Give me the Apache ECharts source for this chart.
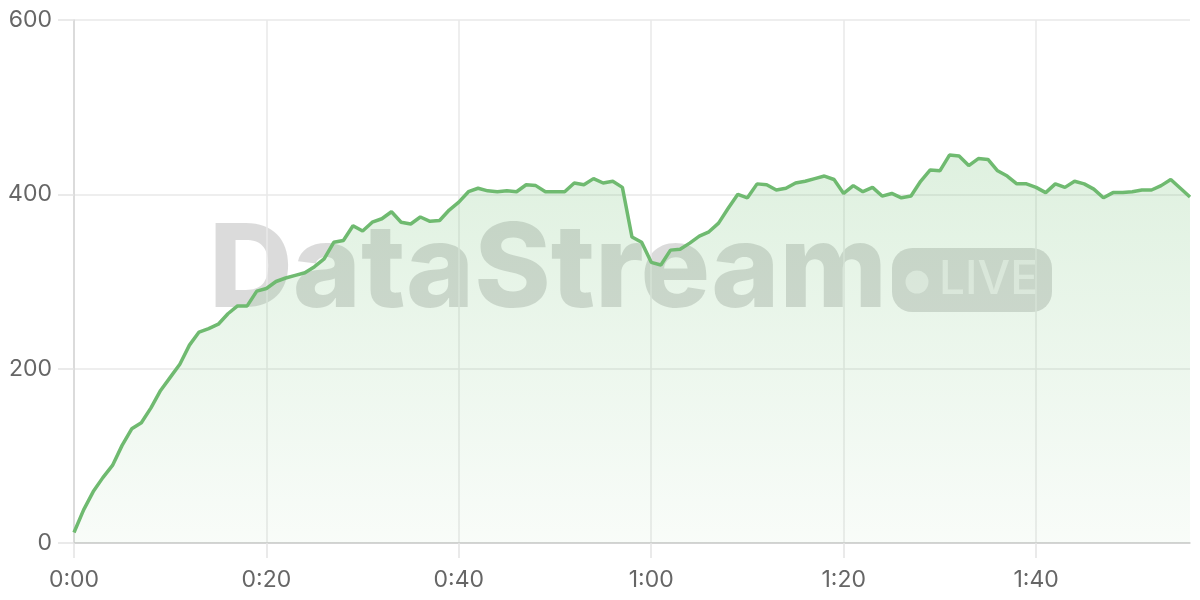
<!DOCTYPE html>
<html>
<head>
<meta charset="utf-8">
<script src="https://cdn.jsdelivr.net/npm/echarts@6/dist/echarts.min.js"></script>
<style>
html,body{margin:0;padding:0;background:#ffffff;}
#chart{width:1200px;height:600px;}
</style>
</head>
<body>
<div id="chart"></div>
<script>
// Values per second, 0:00 .. 1:56
const values = [
  12, 38, 59, 75, 89, 112, 131, 138, 155, 175, 190, 205, 227, 242, 246, 251, 263, 272, 272, 289,
  292, 300, 304, 307, 310, 317, 326, 345, 347, 364, 358, 368, 372, 380, 368, 366, 374, 369, 370, 382,
  391, 403, 407, 404, 403, 404, 403, 411, 410, 403, 403, 403, 413, 411, 418, 413, 415, 408, 351, 345,
  322, 319, 336, 337, 344, 352, 357, 367, 384, 400, 396, 412, 411, 405, 407, 413, 415, 418, 421, 417,
  401, 410, 403, 408, 398, 401, 396, 398, 415, 428, 427, 445, 444, 433, 441, 440, 427, 421, 412, 412,
  408, 402, 412, 408, 415, 412, 406, 396, 402, 402, 403, 405, 405, 410, 417, 407, 397
];
// elapsed seconds for each sample
const seconds = values.map((v, i) => i);
const yTicks = [0, 200, 400, 600];
const watermarkTitle = 'DataStream';
const watermarkBadge = 'LIVE';

function fmtTime(s) {
  s = Number(s);
  const m = Math.floor(s / 60);
  const r = s % 60;
  return m + ':' + (r < 10 ? '0' + r : r);
}

const chart = echarts.init(document.getElementById('chart'), null, { renderer: 'canvas' });
const FONT = 'Inter, "Noto Sans", sans-serif';
const WM = 'rgba(0,0,0,0.14)';

chart.setOption({
  animation: false,
  backgroundColor: '#ffffff',
  grid: { left: 74, right: 10, top: 20, bottom: 57, containLabel: false },
  graphic: [
    {
      type: 'text',
      z: 0,
      silent: true,
      style: {
        x: 209, y: 272,
        text: watermarkTitle,
        fill: WM,
        font: '800 116px ' + FONT,
        textAlign: 'left',
        textVerticalAlign: 'middle'
      }
    },
    {
      type: 'rect',
      z: 0,
      silent: true,
      shape: { x: 892, y: 248, width: 160, height: 64, r: 20 },
      style: { fill: WM }
    },
    {
      type: 'circle',
      z: 1,
      silent: true,
      shape: { cx: 917, cy: 282, r: 11.5 },
      style: { fill: 'rgba(255,255,255,0.55)' }
    },
    {
      type: 'text',
      z: 1,
      silent: true,
      style: {
        x: 939, y: 280,
        text: watermarkBadge,
        fill: 'rgba(255,255,255,0.55)',
        font: '500 46px ' + FONT,
        textAlign: 'left',
        textVerticalAlign: 'middle'
      }
    }
  ],
  xAxis: {
    type: 'category',
    boundaryGap: false,
    data: seconds,
    axisLine: { show: true, lineStyle: { color: '#cccccc', width: 1.5 } },
    axisTick: { show: true, interval: 19, length: 15, lineStyle: { color: '#e3e3e3', width: 1.5 } },
    splitLine: { show: true, interval: 19, lineStyle: { color: '#e8e8e8', width: 1.5 } },
    axisLabel: {
      interval: 19,
      margin: 26,
      color: '#666666',
      fontSize: 23,
      fontFamily: FONT,
      formatter: fmtTime
    }
  },
  yAxis: {
    type: 'value',
    min: yTicks[0],
    max: yTicks[yTicks.length - 1],
    interval: 200,
    axisLine: { show: true, lineStyle: { color: '#d5d5d5', width: 1.5 } },
    axisTick: { show: true, length: 16, lineStyle: { color: '#e3e3e3', width: 1.5 } },
    splitLine: { show: true, lineStyle: { color: '#e8e8e8', width: 1.5 } },
    axisLabel: {
      margin: 22,
      color: '#666666',
      fontSize: 23,
      fontFamily: FONT
    }
  },
  series: [{
    type: 'line',
    data: values,
    showSymbol: false,
    symbol: 'none',
    z: 3,
    lineStyle: { color: '#6fba70', width: 3.5 },
    itemStyle: { color: '#6fba70' },
    areaStyle: {
      color: new echarts.graphic.LinearGradient(0, 0, 0, 1, [
        { offset: 0, color: 'rgba(102,187,106,0.30)' },
        { offset: 1, color: 'rgba(102,187,106,0.06)' }
      ])
    }
  }]
});
</script>
</body>
</html>
